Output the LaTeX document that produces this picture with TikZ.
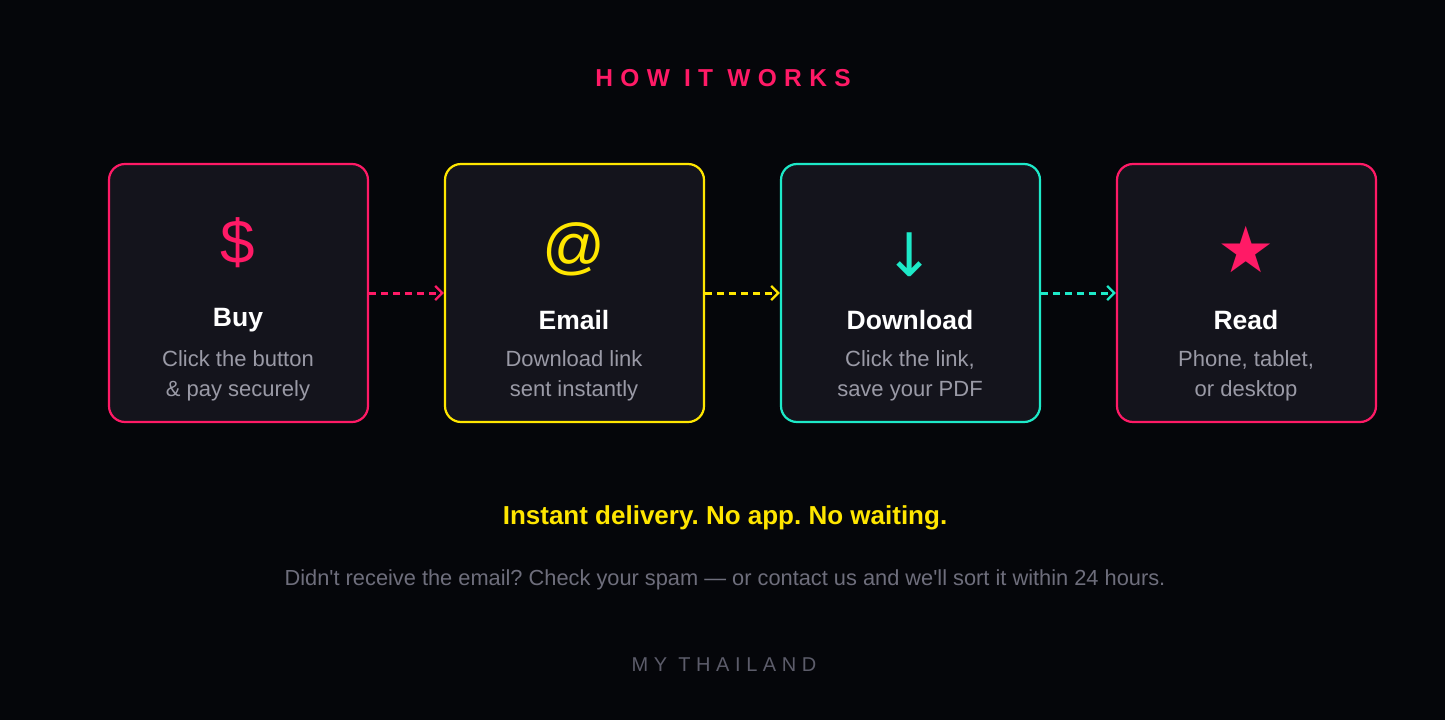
\documentclass[tikz,border=0pt]{standalone}
\usepackage{fontspec}
\setmainfont{Liberation Sans}
\newfontfamily\plainfont[Ligatures=TeXOff]{Liberation Sans}
\newfontfamily\spaced[LetterSpace=30]{Liberation Sans}
\newfontfamily\spacedb[LetterSpace=28]{Liberation Sans}
\newfontfamily\dejavu{DejaVu Sans}
\usetikzlibrary{arrows.meta}
\frenchspacing
\definecolor{bg}{HTML}{05060A}
\definecolor{card}{HTML}{14141C}
\definecolor{pink}{HTML}{FF1A66}
\definecolor{yel}{HTML}{FFE600}
\definecolor{cyan}{HTML}{1DE9C8}
\definecolor{sub}{HTML}{9A9AA6}
\definecolor{note}{HTML}{6E6E7C}
\definecolor{brand}{HTML}{5C5C6A}
\tikzset{
  card/.style={draw=#1, line width=2.2pt, fill=card, rounded corners=16pt, minimum width=259pt, minimum height=258pt, inner sep=0pt},
  icon/.style={text=#1, font=\fontsize{62}{62}\selectfont},
  ttl/.style={text=white, font=\fontsize{26.5}{26.5}\selectfont\bfseries},
  subt/.style={text=sub, font=\fontsize{22}{30}\selectfont, align=center},
  flow/.style={draw=#1, line width=3pt, dash pattern=on 7pt off 5pt, -{Straight Barb[length=7pt,width=14pt,line width=2.4pt]}}
}
\begin{document}
\begin{tikzpicture}[x=1pt,y=-1pt]
\fill[bg] (0,0) rectangle (1445,720);
\useasboundingbox (0,0) rectangle (1445,720);
\node[text=pink, font=\spaced\fontsize{24.5}{24.5}\selectfont\bfseries] (head) at (723,78) {HOW IT WORKS};
\node[card=pink] (c1) at (238.5,293) {};
\node[card=yel] (c2) at (574.5,293) {};
\node[card=cyan] (c3) at (910.5,293) {};
\node[card=pink] (c4) at (1246.5,293) {};
\node[icon=pink] (i1) at (238,243) {\$};
\node[icon=yel] (i2) at (574,249) {@};
\node[icon=cyan, font=\dejavu\fontsize{60}{60}\selectfont] (i3) at (910,255) {↓};
\node[icon=pink, font=\dejavu\fontsize{64}{64}\selectfont] (i4) at (1246,249) {★};
\node[ttl] (t1) at (238,320) {Buy};
\node[ttl] (t2) at (574,320) {Email};
\node[ttl] (t3) at (910,320) {Download};
\node[ttl] (t4) at (1246,320) {Read};
\node[subt] (s1) at (238,376) {Click the button\\\& pay securely};
\node[subt] (s2) at (574,376) {Download link\\sent instantly};
\node[subt] (s3) at (910,376) {Click the link,\\save your PDF};
\node[subt] (s4) at (1246,376) {Phone, tablet,\\or desktop};
\draw[flow=pink] (c1.east) -- (c2.west);
\draw[flow=yel] (c2.east) -- (c3.west);
\draw[flow=cyan] (c3.east) -- (c4.west);
\node[text=yel, font=\fontsize{26}{26}\selectfont\bfseries] (tag) at (725,518) {Instant delivery. No app. No waiting.};
\node[text=note, font=\plainfont\fontsize{21.8}{22}\selectfont] (nt) at (725,580) {Didn't receive the email? Check your spam — or contact us and we'll sort it within 24 hours.};
\node[text=brand, font=\spacedb\fontsize{20}{20}\selectfont] (br) at (724,665) {MY THAILAND};
\end{tikzpicture}
\end{document}
